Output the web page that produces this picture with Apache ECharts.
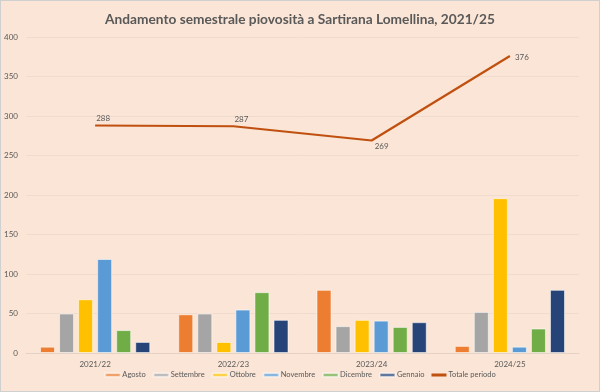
<!DOCTYPE html>
<html><head><meta charset="utf-8">
<script src="https://cdn.jsdelivr.net/npm/echarts@6/dist/echarts.min.js"></script>
<style>html,body{margin:0;padding:0;background:#fff}#c{width:600px;height:392px;box-sizing:border-box;border:1px solid #d0d0d0;background:#FBE5D6}</style>
</head><body><div id="c"></div>
<script>
const categories = ['2021/22','2022/23','2023/24','2024/25'];
const agosto = [8, 49, 80, 9];
const settembre = [50, 50, 34, 52];
const ottobre = [68, 14, 42, 196];
const novembre = [119, 55, 41, 8];
const dicembre = [29, 77, 33, 31];
const gennaio = [14, 42, 39, 80];
const totale = [288, 287, 269, 376];
const yTicks = [0, 50, 100, 150, 200, 250, 300, 350, 400];

const FONT = 'Lato, "Open Sans", sans-serif';
const TXT = '#595959';
const LINE = '#C0500F';
const barNames = ['Agosto','Settembre','Ottobre','Novembre','Dicembre','Gennaio'];
const barData = [agosto, settembre, ottobre, novembre, dicembre, gennaio];
const colors = ['#ED7D31','#A5A5A5','#FFC000','#5B9BD5','#70AD47','#264478'];

const series = barNames.map((n, i) => ({
  name: n, type: 'bar', data: barData[i],
  barWidth: 15, barGap: '27%',
  itemStyle: { color: colors[i], borderColor: 'rgba(255,255,255,0.55)', borderWidth: 1 }
}));
const lblPos = [['top',[8,0]],['top',[8,0]],['right',[0,6]],['right',[2,1]]];
series.push({
  name: 'Totale periodo', type: 'line', data: totale.map((v, i) => ({
    value: v,
    label: { position: lblPos[i][0], offset: lblPos[i][1] }
  })),
  symbol: 'circle', symbolSize: 0, showSymbol: true,
  lineStyle: { color: LINE, width: 2.2 },
  itemStyle: { color: LINE },
  label: { show: true, color: TXT, fontSize: 8, fontFamily: FONT, distance: 3 }
});

const chart = echarts.init(document.getElementById('c'), null, { renderer: 'canvas' });
chart.setOption({
  animation: false,
  backgroundColor: '#FBE5D6',
  title: {
    text: 'Andamento semestrale piovosità a Sartirana Lomellina, 2021/25',
    left: 'center', top: 7,
    textStyle: { color: TXT, fontSize: 13.7, fontWeight: 'bold', fontFamily: FONT }
  },
  grid: { left: 25, right: 20, top: 36, bottom: 38 },
  legend: {
    bottom: 7, left: 'center', itemWidth: 15, itemHeight: 3, itemGap: 7,
    textStyle: { color: TXT, fontSize: 7.5, fontFamily: FONT, padding: [0, 0, 0, -3] },
    data: barNames.map(n => ({ name: n, icon: 'rect' })).concat([{ name: 'Totale periodo', icon: 'rect', itemStyle: { color: LINE } }])
  },
  xAxis: {
    type: 'category', data: categories,
    axisLine: { lineStyle: { color: '#E6D2C5' } },
    axisTick: { show: false },
    axisLabel: { color: TXT, fontSize: 8, fontFamily: FONT, margin: 7 }
  },
  yAxis: {
    type: 'value', min: yTicks[0], max: yTicks[yTicks.length - 1], interval: 50,
    axisLine: { show: false }, axisTick: { show: false },
    splitLine: { lineStyle: { color: '#F0DCCF' } },
    axisLabel: { color: TXT, fontSize: 8, fontFamily: FONT, margin: 8 }
  },
  series: series
});
</script></body></html>
